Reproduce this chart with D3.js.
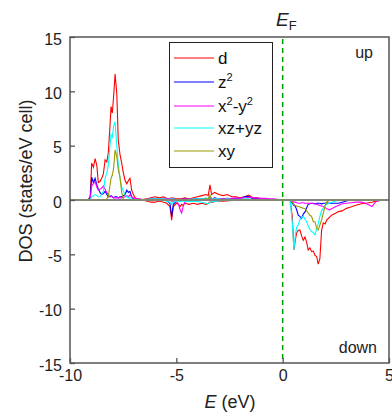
<!DOCTYPE html>
<html><head><meta charset="utf-8">
<script src="https://cdn.jsdelivr.net/npm/d3@7"></script>
<style>body{margin:0;background:#fff}svg{display:block;font-family:Arial,"Liberation Sans",sans-serif}</style>
</head><body><svg id="c" width="392" height="414"></svg>
<script>
// ---- data ----
const energyUp = [-10,-9.15,-9.05,-8.98,-8.9,-8.82,-8.74,-8.67,-8.59,-8.51,-8.43,-8.35,-8.27,-8.2,-8.13,-8.07,-8.01,-7.95,-7.88,-7.8,-7.73,-7.65,-7.57,-7.49,-7.41,-7.33,-7.25,-7.18,-7.1,-7.02,-6.94,-6.8,-6.6,-6.4,-6.2,-6.0,-5.8,-5.6,-5.4,-5.2,-5.0,-4.8,-4.6,-4.4,-4.2,-4.0,-3.8,-3.6,-3.5,-3.42,-3.34,-3.2,-3.0,-2.8,-2.6,-2.4,-2.2,-2.0,-1.8,-1.6,-1.4,-1.2,-1.0,-0.8,-0.6,-0.4,-0.2,0,5];
const dUp = [0,0,0.3,3.4,3.0,3.8,3.2,1.6,1.7,2.0, 2.4,3.7,3.5,4.3,6.5,8.6,8.0,9.5,11.6,9.8, 5.5,4.2,3.4,2.5,1.8,1.5,1.8,2.0,0.9,0.5, 0.2,0.1,0.05,0.1,0.2,0.3,0.2,0.3,0.1,0.2, 0.1,0.1,0.2,0.1,0.2,0.3,0.4,0.5,0.4,1.4, 0.5,0.7,0.5,0.4,0.5,0.3,0.3,0.2,0.3,0.45, 0.2,0.2,0.1,0.1,0.05,0.05,0,0,0];
const z2Up = [0,0,0.2,2.1,1.6,2.0,1.4,1.0,0.7,0.5, 0.6,0.8,0.5,0.3,0.3,0.4,0.3,0.2,0.3,0.3, 0.2,0.3,0.3,0.4,0.5,0.9,0.7,0.8,0.3,0.1, 0,0,0,0.05,0.1,0.1,0.1,0.15,0.05,0.1, 0.05,0.05,0.1,0.05,0.1,0.1,0.1,0.15,0.1,0.3, 0.1,0.2,0.1,0.1,0.15,0.1,0.1,0.1,0.3,0.35, 0.1,0.1,0.05,0.05,0,0,0,0,0];
const x2y2Up = [0,0,0.1,1.3,1.5,1.7,1.2,0.9,1.0,1.1, 1.3,1.0,0.7,0.5,0.3,0.3,0.3,0.2,0.2,0.2, 0.2,0.2,0.2,0.25,0.3,0.4,0.3,0.5,0.3,0.2, 0.15,0.1,0.05,0.05,0.1,0.1,0.1,0.15,0.1,0.1, 0.05,0.05,0.1,0.05,0.1,0.1,0.1,0.1,0.1,0.2, 0.1,0.15,0.1,0.1,0.1,0.15,0.2,0.15,0.2,0.25, 0.2,0.2,0.15,0.15,0.1,0.1,0.05,0,0];
const xzyzUp = [0,0,0,0.3,0.4,0.5,0.4,0.3,0.3,0.5, 0.8,2.0,2.5,3.2,4.8,6.0,5.8,6.8,7.2,5.0, 3.3,2.0,1.2,0.8,0.5,0.3,0.2,0.2,0.1,0.05, 0.05,0.05,0.05,0.05,0.1,0.1,0.1,0.1,0.05,0.1, 0.05,0.05,0.05,0.05,0.1,0.1,0.1,0.15,0.1,0.35, 0.1,0.1,0.1,0.05,0.1,0.05,0.05,0.05,0.1,0.1, 0.05,0.05,0.05,0,0,0,0,0,0];
const xyUp = [0,0,0,0,0,0,0,0,0,0, 0,0,0.1,0.3,1.2,2.0,2.3,2.9,4.6,4.0, 2.8,2.1,0.7,0.1,0,0,0,0,0,0, 0,0,0,0,0.05,0.05,0.05,0.05,0,0.05, 0,0,0.05,0,0.05,0.05,0.05,0.1,0.05,0.45, 0.05,0.05,0.05,0,0.05,0,0,0,0.05,0.05, 0,0,0,0,0,0,0,0,0];

const energyDown = [-10,-6.6,-6.4,-6.2,-6.0,-5.8,-5.6,-5.45,-5.3,-5.22,-5.14,-5.0,-4.9,-4.82,-4.75,-4.68,-4.6,-4.4,-4.2,-4.0,-3.8,-3.6,-3.5,-3.42,-3.3,-3.1,-2.8,-2.4,-2.0,-1.5,-1.0,0,0.35,0.45,0.53,0.6,0.66,0.73,0.81,0.89,0.97,1.05,1.13,1.2,1.28,1.36,1.44,1.52,1.6,1.67,1.75,1.83,1.91,2.0,2.07,2.2,2.3,2.5,2.62,2.8,3.0,3.2,3.48,3.7,3.9,4.2,4.4,4.7,5];
const dDown = [0,0,-0.1,-0.2,-0.2,-0.1,-0.2,-0.3,-0.6,-1.85, -0.6,-0.3,-0.4,-0.6,-0.4,-0.5,-0.3,-0.4,-0.3,-0.4, -0.3,-0.4,-0.3,-0.2,-0.2,-0.1,-0.1,-0.05,0,0, 0,0,0,-1.5,-4.6,-3.6,-3.0,-2.8,-2.76,-3.3, -3.7,-3.4,-3.9,-4.6,-4.4,-4.75,-4.7,-5.1,-5.2,-5.9, -5.4,-2.8,-2.1,-2.2,-1.85,-1.6,-1.4,-1.2,-1.07,-1.0, -0.77,-0.65,-0.46,-0.35,-0.3,-0.2,-0.1,0,0];
const z2Down = [0,0,0,0,0,0,0,-0.05,-0.3,-1.5, -0.4,-0.1,-0.05,-0.05,-0.05,-0.05,0,0,0,0, 0,0,0,0,0,0,0,0,0,0, 0,0,0,-0.3,-0.5,-0.6,-0.9,-1.4,-1.5,-1.7, -1.3,-1.1,-0.7,-0.4,-0.35,-0.3,-0.3,-0.35,-0.3,-0.3, -0.3,-0.35,-0.3,-0.3,-0.25,-0.3,-0.3,-0.3,-0.3,-0.2, -0.1,0,0,0,0,0,0,0,0];
const x2y2Down = [0,0,0,0,0,0,0,0,0,-0.1, -0.1,-0.1,-0.4,-0.9,-1.2,-0.6,-0.2,-0.05,0,0, 0,0,0,0,0,0,0,0,0,0, 0,0,0,-0.1,-0.2,-0.2,-0.25,-0.3,-0.3,-0.25, -0.25,-0.3,-0.3,-0.3,-0.3,-0.3,-0.35,-0.35,-0.4,-0.45, -0.5,-0.55,-0.6,-0.7,-0.8,-0.9,-0.8,-0.6,-0.5,-0.35, -0.3,-0.25,-0.2,-0.2,-0.3,-0.6,-0.1,0,0];
const xzyzDown = [0,0,0,0,0,0,-0.05,-0.1,-0.2,-0.4, -0.2,-0.1,-0.1,-0.15,-0.1,-0.1,-0.1,-0.15,-0.1,-0.15, -0.2,-0.3,-0.35,-0.2,-0.15,-0.1,-0.05,0,0,0, 0,0,0,-2.0,-4.6,-3.2,-2.5,-2.3,-1.8,-1.6, -1.5,-1.8,-2.0,-2.4,-2.7,-2.9,-3.0,-3.2,-2.6,-2.2, -1.5,-1.0,-0.77,-0.5,-0.4,-0.3,-0.2,-0.1,0,0, 0,0,0,0,0,0,0,0,0];
const xyDown = [0,0,0,0,0,0,0,0,0,0, 0,0,0,0,0,0,0,0,0,0, 0,0,0,0,0,0,0,0,0,0, 0,0,0,-0.2,-0.4,-0.5,-0.55,-0.6,-0.65,-0.7, -0.75,-0.8,-1.0,-1.2,-1.4,-1.5,-2.0,-2.0,-2.6,-2.76, -2.3,-1.84,-1.2,-0.5,-0.2,0,0,0,0,0, 0,0,0,0,0,0,0,0,0];

const seriesNames = ["d","z2","x2-y2","xz+yz","xy"];
const seriesColors = ["#ff0000","#0000ff","#ff00ff","#00ffff","#999900"];
const upValues = [dUp, z2Up, x2y2Up, xzyzUp, xyUp];
const downValues = [dDown, z2Down, x2y2Down, xzyzDown, xyDown];
const xTicks = [-10,-5,0,5];
const yTicks = [-15,-10,-5,0,5,10,15];

// ---- drawing ----
const svg = d3.select("#c");
const L = 70, R = 389, T = 37, B = 363;
const x = d3.scaleLinear().domain([-10,5]).range([L,R]);
const y = d3.scaleLinear().domain([-15,15]).range([B,T]);

svg.append("defs").append("clipPath").attr("id","clip")
  .append("rect").attr("x",L).attr("y",T).attr("width",R-L).attr("height",B-T);

const plot = svg.append("g").attr("clip-path","url(#clip)");
const line = d3.line().x(d=>x(d[0])).y(d=>y(d[1]));

seriesNames.forEach((n,i)=>{
  plot.append("path").datum(energyUp.map((e,j)=>[e,upValues[i][j]]))
    .attr("d",line).attr("fill","none").attr("stroke",seriesColors[i]).attr("stroke-width",1.1);
  plot.append("path").datum(energyDown.map((e,j)=>[e,downValues[i][j]]))
    .attr("d",line).attr("fill","none").attr("stroke",seriesColors[i]).attr("stroke-width",1.1);
});
// zero line
plot.append("line").attr("x1",L).attr("x2",R).attr("y1",y(0)).attr("y2",y(0))
  .attr("stroke","#808080").attr("stroke-width",1.4);

// Fermi level
svg.append("line").attr("x1",x(0)).attr("x2",x(0)).attr("y1",T+2).attr("y2",B)
  .attr("stroke","#009900").attr("stroke-width",1.5).attr("stroke-dasharray","5,4");

// frame
svg.append("rect").attr("x",L).attr("y",T).attr("width",R-L).attr("height",B-T)
  .attr("fill","none").attr("stroke","#555").attr("stroke-width",1.5);

// axes (inward ticks)
const fmt = d => String(d);
const ya = svg.append("g").attr("transform",`translate(${L},0)`)
  .call(d3.axisLeft(y).tickValues(yTicks).tickFormat(fmt).tickSize(-5).tickPadding(8));
const xa = svg.append("g").attr("transform",`translate(0,${B})`)
  .call(d3.axisBottom(x).tickValues(xTicks).tickFormat(fmt).tickSize(-5).tickPadding(6));
[ya,xa].forEach(a=>{
  a.select(".domain").remove();
  a.selectAll(".tick line").attr("stroke","#555").attr("stroke-width",1.3);
  a.selectAll("text").attr("font-size",16).attr("fill","#222").attr("font-family","Arial, 'Liberation Sans', sans-serif");
});
ya.selectAll("text").attr("dy","0.45em");
xa.selectAll("text").attr("dy","0.78em");

// axis titles
const xt = svg.append("text").attr("x",230).attr("y",408).attr("text-anchor","middle")
  .attr("font-size",18).attr("fill","#222");
xt.append("tspan").attr("font-style","italic").text("E");
xt.append("tspan").text(" (eV)");

svg.append("text").attr("transform","translate(32,181) rotate(-90)").attr("text-anchor","middle")
  .attr("font-size",18).attr("fill","#222").text("DOS (states/eV cell)");

// E_F
const ef = svg.append("text").attr("x",276).attr("y",26).attr("font-size",19).attr("fill","#222");
ef.append("tspan").attr("font-style","italic").text("E");
ef.append("tspan").attr("font-size",13).attr("dy",4).text("F");

svg.append("text").attr("x",373).attr("y",58).attr("text-anchor","end").attr("font-size",16).attr("fill","#222").text("up");
svg.append("text").attr("x",377).attr("y",353).attr("text-anchor","end").attr("font-size",16).attr("fill","#222").text("down");

// legend
const lg = svg.append("g");
lg.append("rect").attr("x",169.5).attr("y",42.5).attr("width",103).attr("height",125)
  .attr("fill","#fff").attr("stroke","#222").attr("stroke-width",1);
const rowY = [58,82,106,128,151];
const labels = [
  [["d",0]],
  [["z",0],["2",1]],
  [["x",0],["2",1],["-y",2],["2",1]],
  [["xz+yz",0]],
  [["xy",0]]
];
seriesNames.forEach((n,i)=>{
  lg.append("line").attr("x1",174).attr("x2",214).attr("y1",rowY[i]).attr("y2",rowY[i])
    .attr("stroke",seriesColors[i]).attr("stroke-width",1.2);
  const t = lg.append("text").attr("x",218).attr("y",rowY[i]+6).attr("font-size",17).attr("fill","#111");
  let shifted = false;
  labels[i].forEach(([s,k])=>{
    const ts = t.append("tspan").text(s);
    if(k===1){ ts.attr("font-size",11).attr("dy",-7); shifted=true; }
    else if(k===2 && shifted){ ts.attr("dy",7); shifted=false; }
  });
});
</script></body></html>
